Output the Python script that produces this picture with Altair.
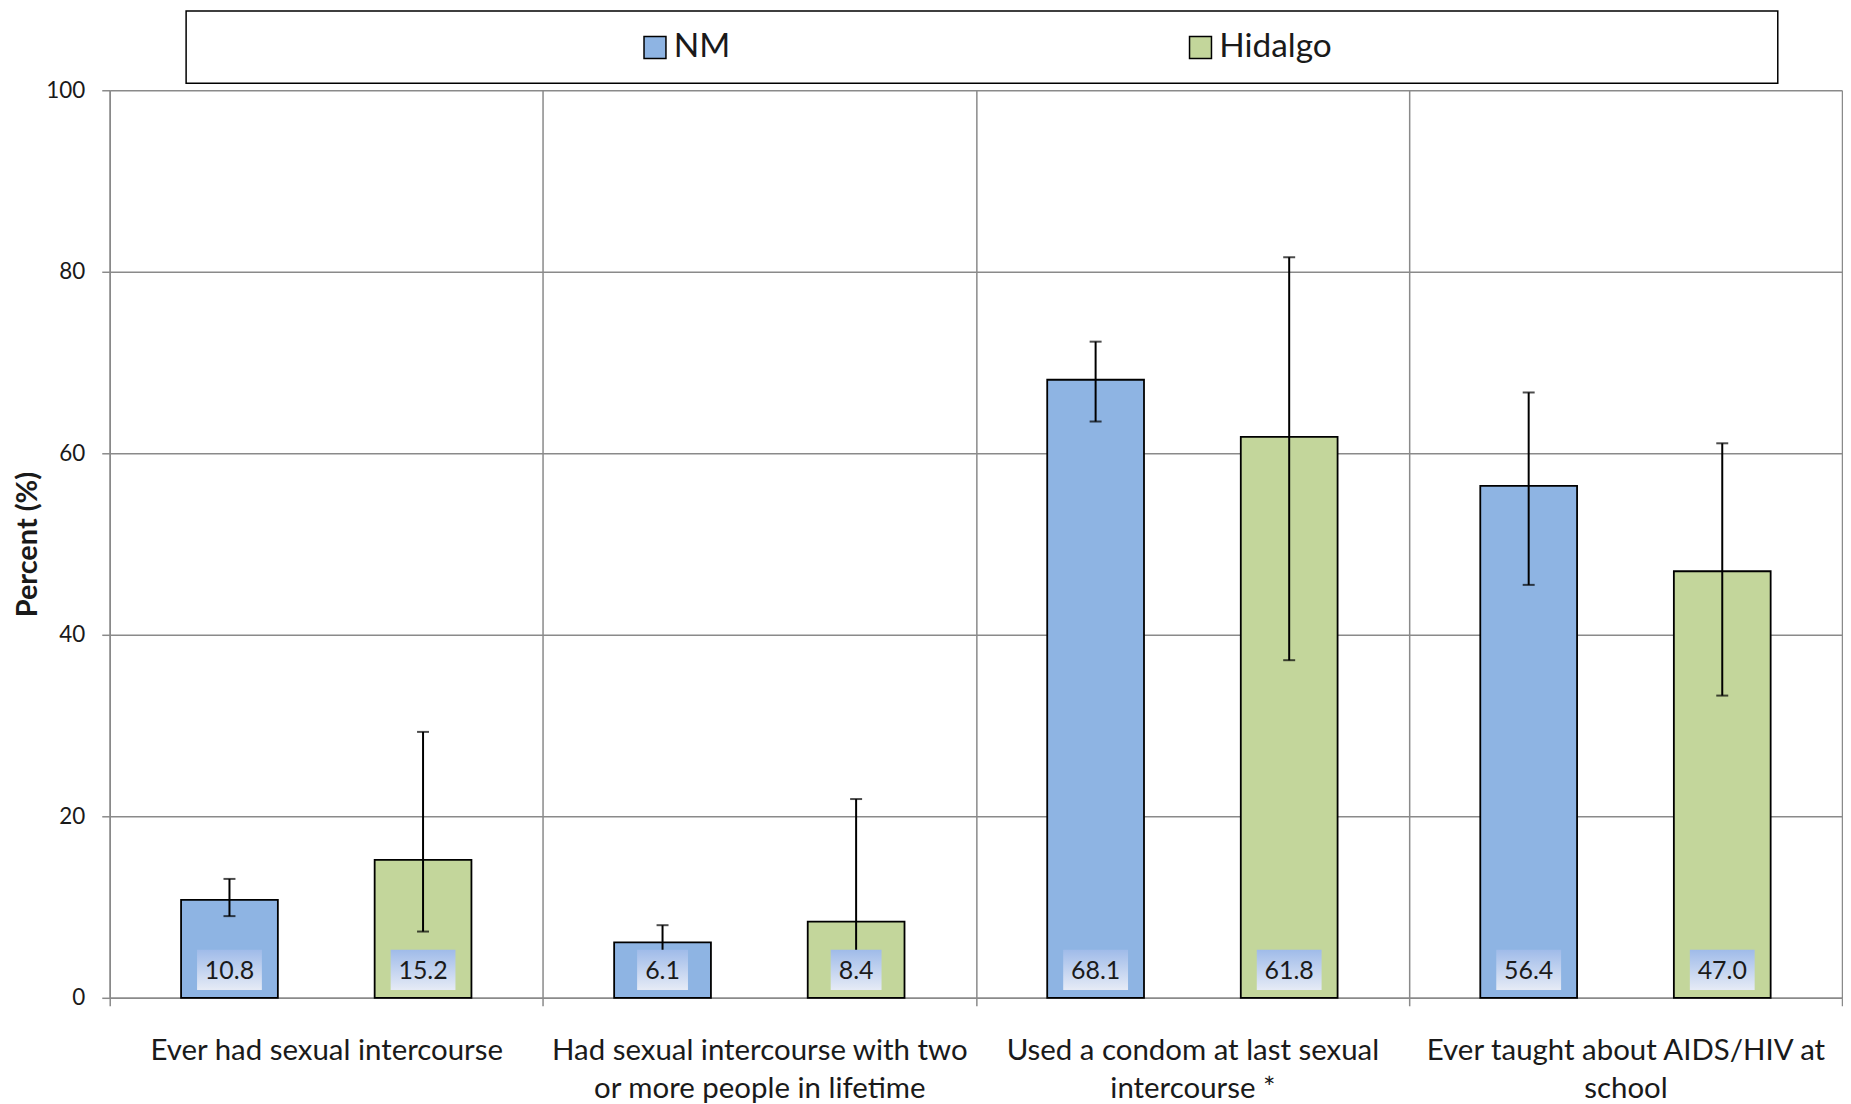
import json
import altair as alt
import pandas as pd

# ---- data ----
categories = [
    "Ever had sexual intercourse",
    "Had sexual intercourse with two or more people in lifetime",
    "Used a condom at last sexual intercourse *",
    "Ever taught about AIDS/HIV at school",
]
label_lines = [
    ["Ever had sexual intercourse"],
    ["Had sexual intercourse with two", "or more people in lifetime"],
    ["Used a condom at last sexual", "intercourse *"],
    ["Ever taught about AIDS/HIV at", "school"],
]
series = ["NM", "Hidalgo"]
nm_values = [10.8, 6.1, 68.1, 56.4]
nm_low = [9.0, 4.4, 63.5, 45.5]
nm_high = [13.1, 8.0, 72.3, 66.7]
hid_values = [15.2, 8.4, 61.8, 47.0]
hid_low = [7.3, 3.1, 37.2, 33.3]
hid_high = [29.3, 21.9, 81.6, 61.1]
colors = ["#8EB4E3", "#C3D69B"]
y_ticks = [0, 20, 40, 60, 80, 100]

rows = []
for i, c in enumerate(categories):
    rows.append({"category": c, "series": "NM", "value": nm_values[i], "lo": nm_low[i], "hi": nm_high[i]})
    rows.append({"category": c, "series": "Hidalgo", "value": hid_values[i], "lo": hid_low[i], "hi": hid_high[i]})
df = pd.DataFrame(rows)

FONT = "Lato"
GRAY = "#8a8a8a"
TXT = "#1a1a1a"

label_expr = " : ".join(
    f"datum.value == '{c}' ? {json.dumps(l)}" for c, l in zip(categories, label_lines)
) + " : datum.label"

x_enc = alt.X(
    "category:N",
    sort=categories,
    scale=alt.Scale(paddingInner=0, paddingOuter=0),
    axis=alt.Axis(
        title=None,
        labelAngle=0,
        labelExpr=label_expr,
        labelFont=FONT,
        labelFontSize=29.5,
        labelColor=TXT,
        labelLineHeight=38,
        labelPadding=31,
        labelLimit=800,
        tickBand="extent",
        tickSize=8,
        tickColor=GRAY,
        tickWidth=1.5,
        domainColor=GRAY,
        domainWidth=1.5,
        grid=True,
        gridColor=GRAY,
        gridWidth=1.5,
    ),
)
xoff_enc = alt.XOffset(
    "series:N",
    sort=series,
    scale=alt.Scale(domain=series, paddingInner=0.5, paddingOuter=0.3686),
)
y_scale = alt.Scale(domain=[0, 100], nice=False)
y_axis = alt.Axis(
    values=y_ticks,
    title="Percent (%)",
    titleFont=FONT,
    titleFontSize=29,
    titleFontWeight="bold",
    titleColor=TXT,
    titlePadding=3,
    labelFont=FONT,
    labelFontSize=22.5,
    labelColor=TXT,
    labelPadding=17,
    tickSize=8,
    tickColor=GRAY,
    tickWidth=1.5,
    domainColor=GRAY,
    domainWidth=1.5,
    grid=True,
    gridColor=GRAY,
    gridWidth=1.5,
)

base = alt.Chart(df)

legend_box = alt.Chart(pd.DataFrame({"k": [0]})).mark_rect(
    fill="white", stroke="black", strokeWidth=1.5
).encode(
    x=alt.value(76.6), x2=alt.value(1672.6), y=alt.value(-79.5), y2=alt.value(-7)
)

bars = base.mark_bar(stroke="black", strokeWidth=1.8).encode(
    x=x_enc,
    xOffset=xoff_enc,
    y=alt.Y("value:Q", scale=y_scale, axis=y_axis),
    color=alt.Color(
        "series:N",
        scale=alt.Scale(domain=series, range=colors),
        legend=alt.Legend(
            title=None,
            orient="none",
            direction="horizontal",
            legendX=530,
            legendY=-60,
            symbolType="square",
            symbolSize=484,
            symbolStrokeColor="black",
            symbolStrokeWidth=1.5,
            symbolOpacity=1,
            labelFont=FONT,
            labelFontSize=33.5,
            labelColor=TXT,
            labelOffset=2,
            columnPadding=454,
        ),
    ),
)

err_rule = base.mark_rule(color="black", strokeWidth=2).encode(
    x=alt.X("category:N", sort=categories), xOffset=xoff_enc, y="lo:Q", y2="hi:Q"
)
err_lo = base.mark_tick(color="black", size=12, thickness=2).encode(
    x=alt.X("category:N", sort=categories), xOffset=xoff_enc, y="lo:Q"
)
err_hi = base.mark_tick(color="black", size=12, thickness=2).encode(
    x=alt.X("category:N", sort=categories), xOffset=xoff_enc, y="hi:Q"
)

grad = alt.Gradient(
    gradient="linear",
    stops=[
        alt.GradientStop(color="#9fbbe9", offset=0),
        alt.GradientStop(color="#e6ebf6", offset=1),
    ],
    x1=0, x2=0, y1=0, y2=1,
)

label_box = base.transform_calculate(
    boxw="length(format(datum.value, '.1f')) * 14 + 9"
).mark_bar(color=grad).encode(
    x=alt.X("category:N", sort=categories),
    xOffset=xoff_enc,
    y=alt.datum(5.3),
    y2=alt.datum(0.85),
    size=alt.Size("boxw:Q", scale=None, legend=None),
)

label_text = base.mark_text(
    font=FONT, fontSize=25, color=TXT, baseline="middle", align="center"
).encode(
    x=alt.X("category:N", sort=categories),
    xOffset=xoff_enc,
    y=alt.datum(2.95),
    text=alt.Text("value:Q", format=".1f"),
)

chart = alt.layer(
    legend_box, bars, err_rule, err_lo, err_hi, label_box, label_text
).properties(
    width=1737,
    height=910,
    padding={"left": 5, "top": 0, "right": 0, "bottom": 0},
    background="white",
).configure_view(strokeWidth=0)

chart.save("out.html", embed_options={"renderer": "svg", "actions": False})
